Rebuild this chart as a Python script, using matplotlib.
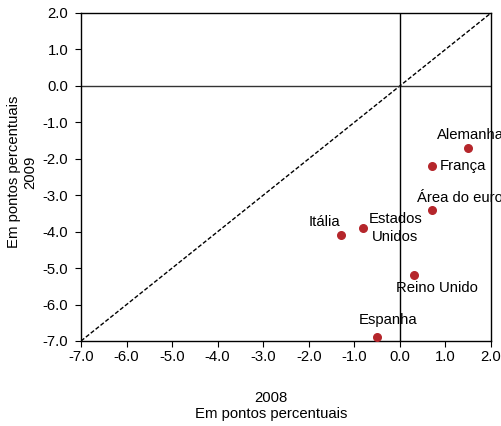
import matplotlib
matplotlib.use('Agg')
import matplotlib.pyplot as plt

plt.rcParams['font.family'] = ['Liberation Sans', 'DejaVu Sans']

# Data: 2008 (x) vs 2009 (y), em pontos percentuais
countries = ['Alemanha', 'França', 'Área do euro', 'Estados\nUnidos',
             'Itália', 'Reino Unido', 'Espanha']
x_2008 = [1.5, 0.7, 0.7, -0.8, -1.3, 0.3, -0.5]
y_2009 = [-1.7, -2.2, -3.4, -3.9, -4.1, -5.2, -6.9]

# label offsets in pixels and alignment
offsets = [(2, 13, 'center'), (8, 0, 'left'), (-15, 12, 'left'),
           (32, 0, 'center'), (-16, 13, 'center'), (23, -13, 'center'),
           (11, 17, 'center')]

ticks = [-7, -6, -5, -4, -3, -2, -1, 0, 1, 2]
fs = 10.7

fig = plt.figure(figsize=(5.02, 4.26), dpi=100)
ax = fig.add_axes([81 / 502, 1 - 341 / 426, 410 / 502, 328 / 426])

ax.plot([-7, 2], [-7, 2], color='black', linestyle=(0, (3, 1.5)), linewidth=1)
ax.axhline(0, color='#333333', linewidth=1)
ax.axvline(0, color='black', linewidth=1)

ax.scatter(x_2008, y_2009, s=30, color='#B5262B', zorder=3)

for name, x, y, (dx, dy, ha) in zip(countries, x_2008, y_2009, offsets):
    ax.annotate(name, (x, y), xytext=(dx, dy), textcoords='offset pixels',
                ha=ha, va='center', fontsize=fs, linespacing=1.3,
                multialignment='center', annotation_clip=False)

ax.set_xlim(-7, 2)
ax.set_ylim(-7, 2)
ax.set_xticks(ticks)
ax.set_yticks(ticks)
ax.set_xticklabels([f'{t:.1f}' for t in ticks])
ax.set_yticklabels([f'{t:.1f}' for t in ticks])
ax.tick_params(direction='out', length=4, labelsize=fs)
ax.tick_params(axis='x', pad=2.5)
ax.tick_params(axis='y', pad=5)
for spine in ax.spines.values():
    spine.set_linewidth(1)

fig.text(271 / 502, 1 - 406 / 426, '2008\nEm pontos percentuais',
         ha='center', va='center', fontsize=fs, linespacing=1.2)
fig.text(22 / 502, 1 - 172 / 426, 'Em pontos percentuais\n2009',
         ha='center', va='center', rotation=90, fontsize=fs, linespacing=1.2)

fig.savefig('out.png', dpi=100)
